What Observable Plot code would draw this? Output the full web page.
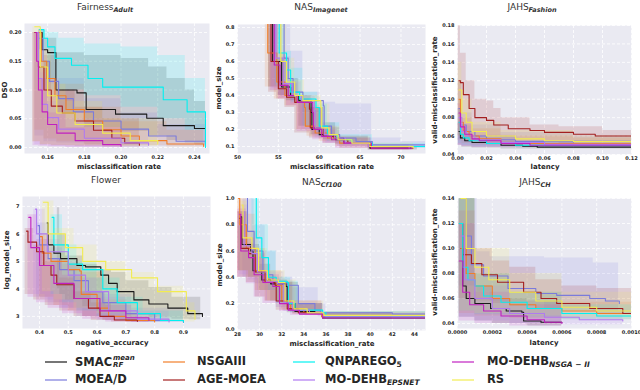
<!DOCTYPE html>
<html><head><meta charset="utf-8">
<script src="https://cdn.jsdelivr.net/npm/d3@7"></script>
<script src="https://cdn.jsdelivr.net/npm/@observablehq/plot@0.6"></script>
<style>
html,body{margin:0;padding:0;background:#fff;}
#root{position:relative;width:640px;height:390px;overflow:hidden;font-family:"DejaVu Sans",sans-serif;color:#262626;}
.abs{position:absolute;white-space:nowrap;line-height:1;}
.ttl{font-size:9px;color:#333;transform:translate(-50%,-50%);}
.ttl sub{font-size:6.5px;font-weight:bold;font-style:italic;vertical-align:-2px;line-height:0;}
.xl{font-size:7px;font-weight:bold;transform:translate(-50%,-50%);}
.yl{font-size:7px;font-weight:bold;transform:translate(-50%,-50%) rotate(-90deg);}
.lg{font-size:11.5px;font-weight:bold;transform:translateY(-50%);}
.lg sub{font-size:7.5px;font-style:italic;vertical-align:-2px;line-height:0;}
.lg sub.n{font-style:normal;}
.ss{display:inline-flex;flex-direction:column;font-size:7px;font-style:italic;line-height:6.5px;vertical-align:middle;margin-left:1px;position:relative;top:-1px;}
</style></head>
<body><div id="root"></div>
<script>
// ---------- methods / legend ----------
const methods = ["SMAC","MOEA/D","NSGAIII","AGE-MOEA","QNPAREGO5","MO-DEHB_EPSNET","MO-DEHB_NSGA-II","RS"];
const colors  = ["#1a1a1a","#7b7bdb","#f07d2a","#a31f1f","#00f0f0","#b07af0","#c020c0","#f2ec50"];
const legendLabels = [
  'SMAC<span class="ss"><span>mean</span><span>RF</span></span>',
  'MOEA/D','NSGAIII','AGE-MOEA',
  'QNPAREGO<sub class="n">5</sub>',
  'MO-DEHB<sub>EPSNET</sub>',
  'MO-DEHB<sub>NSGA − II</sub>',
  'RS'];

// ---------- ticks ----------
const fairXT = [0.16,0.18,0.20,0.22,0.24], fairYT = [0,0.05,0.10,0.15,0.20];
const imgXT = [50,55,60,65,70], imgYT = [0.1,0.2,0.3,0.4,0.5,0.6,0.7,0.8];
const fashXT = [0,0.02,0.04,0.06,0.08,0.10,0.12], fashYT = [0.04,0.06,0.08,0.10,0.12,0.14,0.16,0.18];
const flowXT = [0.4,0.5,0.6,0.7,0.8,0.9], flowYT = [3,4,5,6,7];
const cfXT = [28,30,32,34,36,38,40,42,44], cfYT = [0,0.2,0.4,0.6,0.8,1.0];
const chXT = [0,0.0002,0.0004,0.0006,0.0008,0.0010], chYT = [0.04,0.06,0.08,0.10,0.12,0.14];

// ---------- Fairness Adult (order = methods) ----------
const fairLines = [
 [[0.1552,0.200],[0.1570,0.170],[0.1600,0.165],[0.1645,0.100],[0.1760,0.095],[0.1810,0.066],[0.1970,0.058],[0.2140,0.051],[0.2230,0.038],[0.2400,0.033],[0.2460,0.033]],
 [[0.1550,0.190],[0.1575,0.150],[0.1610,0.115],[0.1660,0.085],[0.1740,0.062],[0.1850,0.046],[0.2000,0.032],[0.2150,0.020],[0.2300,0.011],[0.2460,0.005]],
 [[0.1540,0.200],[0.1565,0.150],[0.1595,0.120],[0.1640,0.090],[0.1700,0.066],[0.1800,0.046],[0.1900,0.031],[0.2000,0.020],[0.2100,0.012],[0.2250,0.006],[0.2450,0.002]],
 [[0.1530,0.200],[0.1550,0.140],[0.1580,0.100],[0.1620,0.072],[0.1680,0.060],[0.1750,0.046],[0.1850,0.030],[0.1950,0.016],[0.2020,0.008],[0.2100,0.004]],
 [[0.1555,0.205],[0.1580,0.190],[0.1600,0.175],[0.1640,0.155],[0.1730,0.143],[0.1820,0.120],[0.1900,0.105],[0.2230,0.083],[0.2360,0.062],[0.2460,0.062],[0.2460,0.000]],
 [[0.1540,0.200],[0.1550,0.120],[0.1570,0.075],[0.1600,0.052],[0.1660,0.032],[0.1800,0.016],[0.2000,0.008],[0.2150,0.004]],
 [[0.1535,0.200],[0.1540,0.150],[0.1550,0.100],[0.1570,0.062],[0.1600,0.040],[0.1650,0.025],[0.1750,0.012],[0.1900,0.005],[0.2000,0.002]],
 [[0.1530,0.210],[0.1560,0.140],[0.1600,0.090],[0.1650,0.060],[0.1750,0.040],[0.1900,0.025],[0.2050,0.012],[0.2200,0.006]]
];
const fairBands = [
 [[0.155,0.17,0.205],[0.158,0.10,0.19],[0.165,0.06,0.165],[0.18,0.035,0.16],[0.20,0.028,0.155],[0.215,0.02,0.14],[0.225,0.012,0.12],[0.235,0.008,0.10],[0.240,0.005,0.08],[0.246,0.0,0.06]],
 [[0.153,0.02,0.20],[0.158,0.01,0.16],[0.165,0.008,0.12],[0.18,0.005,0.085],[0.20,0.003,0.06],[0.22,0.002,0.04],[0.246,0.0,0.03]],
 [[0.153,0.03,0.20],[0.158,0.015,0.16],[0.165,0.01,0.11],[0.18,0.005,0.07],[0.20,0.003,0.045],[0.225,0.001,0.03],[0.245,0.0,0.01]],
 [[0.152,0.01,0.20],[0.156,0.005,0.15],[0.162,0.003,0.10],[0.175,0.002,0.07],[0.19,0.001,0.05],[0.21,0.0,0.03]],
 [[0.156,0.17,0.205],[0.160,0.12,0.20],[0.166,0.10,0.19],[0.18,0.09,0.18],[0.20,0.07,0.175],[0.22,0.05,0.16],[0.235,0.03,0.12],[0.246,0.01,0.10]],
 [[0.153,0.005,0.20],[0.156,0.003,0.13],[0.16,0.002,0.08],[0.17,0.001,0.05],[0.19,0.0,0.03],[0.215,0.0,0.015]],
 [[0.152,0.003,0.20],[0.155,0.002,0.12],[0.16,0.001,0.06],[0.17,0.0,0.035],[0.20,0.0,0.015]],
 [[0.152,0.01,0.21],[0.156,0.005,0.17],[0.162,0.004,0.11],[0.17,0.003,0.08],[0.19,0.002,0.05],[0.22,0.0,0.03]]
];

// ---------- NAS Imagenet ----------
const imgLines = [
 [[54.2,0.85],[54.3,0.60],[55.4,0.45],[56.5,0.40],[57.5,0.37],[59.0,0.30],[59.1,0.20],[60.0,0.17],[61.8,0.15],[63.0,0.12],[66.2,0.09],[71.2,0.09]],
 [[55.6,0.85],[55.7,0.62],[56.2,0.50],[56.8,0.42],[58.0,0.37],[60.5,0.34],[60.6,0.22],[61.5,0.17],[62.5,0.15],[64.5,0.13],[66.5,0.11],[73.0,0.10]],
 [[53.6,0.85],[53.7,0.65],[54.8,0.48],[55.8,0.40],[57.2,0.36],[58.2,0.33],[58.3,0.22],[59.5,0.18],[61.0,0.15],[62.5,0.12],[66.0,0.10],[71.0,0.09]],
 [[54.0,0.85],[54.1,0.60],[55.0,0.44],[56.0,0.39],[57.0,0.36],[58.8,0.32],[58.9,0.21],[60.5,0.16],[62.0,0.14],[63.5,0.12],[66.3,0.09],[71.5,0.09]],
 [[55.0,0.85],[55.1,0.65],[56.0,0.55],[56.5,0.42],[57.6,0.38],[59.6,0.33],[60.0,0.22],[61.0,0.17],[62.2,0.14],[64.0,0.12],[66.5,0.10],[71.5,0.10],[73.0,0.08]],
 [[54.6,0.85],[54.7,0.62],[55.6,0.47],[56.7,0.40],[57.8,0.37],[59.4,0.31],[59.5,0.21],[60.6,0.17],[61.9,0.15],[63.2,0.12],[66.0,0.10],[71.0,0.09]],
 [[54.4,0.85],[54.5,0.58],[55.2,0.46],[56.2,0.40],[57.3,0.36],[59.2,0.30],[59.3,0.20],[60.3,0.16],[61.5,0.14],[63.0,0.12],[66.4,0.09],[71.3,0.09]],
 [[55.2,0.85],[55.3,0.60],[56.0,0.48],[57.0,0.40],[58.0,0.37],[60.2,0.33],[60.3,0.21],[61.2,0.17],[62.3,0.14],[64.0,0.12],[66.2,0.10],[71.5,0.09]]
];
const imgBands = [
 [[53.8,0.45,0.85],[55.0,0.40,0.62],[56.0,0.37,0.50],[57.5,0.22,0.40],[59.0,0.17,0.33],[60.5,0.14,0.24],[62.0,0.11,0.16],[66.0,0.08,0.10],[72.0,0.08,0.10]],
 [[55.0,0.40,0.85],[56.5,0.37,0.66],[58.0,0.30,0.42],[60.0,0.15,0.36],[62.0,0.13,0.35],[66.3,0.11,0.35],[66.4,0.10,0.15],[70.0,0.09,0.13],[73.0,0.09,0.12]],
 [[53.4,0.45,0.85],[54.5,0.38,0.65],[55.8,0.34,0.48],[57.2,0.20,0.38],[58.5,0.16,0.34],[60.0,0.13,0.22],[62.0,0.10,0.15],[66.0,0.08,0.11],[71.0,0.08,0.10]],
 [[53.8,0.42,0.85],[54.8,0.38,0.62],[55.8,0.33,0.46],[57.0,0.18,0.38],[58.8,0.15,0.33],[60.5,0.12,0.21],[62.5,0.09,0.15],[66.3,0.08,0.10],[71.5,0.08,0.10]],
 [[54.6,0.46,0.85],[55.8,0.40,0.66],[56.6,0.36,0.56],[58.0,0.22,0.42],[59.8,0.16,0.35],[61.0,0.13,0.24],[62.5,0.11,0.17],[66.5,0.09,0.12],[73.0,0.08,0.11]],
 [[54.2,0.44,0.85],[55.4,0.39,0.63],[56.5,0.35,0.48],[57.8,0.20,0.40],[59.5,0.15,0.33],[60.8,0.12,0.22],[62.2,0.10,0.16],[66.0,0.08,0.11],[71.0,0.08,0.10]],
 [[54.0,0.43,0.85],[55.0,0.38,0.60],[56.0,0.34,0.47],[57.3,0.19,0.38],[59.2,0.14,0.31],[60.4,0.12,0.20],[62.0,0.09,0.15],[66.4,0.08,0.10],[71.3,0.08,0.10]],
 [[54.8,0.45,0.85],[56.0,0.40,0.62],[57.0,0.35,0.49],[58.2,0.21,0.40],[60.2,0.16,0.35],[61.3,0.13,0.22],[62.5,0.11,0.16],[66.2,0.09,0.12],[71.5,0.08,0.10]]
];

// ---------- JAHS Fashion ----------
const fashLines = [
 [[0.001,0.065],[0.002,0.058],[0.005,0.055],[0.010,0.053],[0.020,0.052],[0.030,0.050],[0.045,0.049],[0.055,0.048],[0.120,0.048]],
 [[0.001,0.090],[0.002,0.072],[0.006,0.065],[0.012,0.060],[0.020,0.056],[0.040,0.054],[0.080,0.052],[0.120,0.051]],
 [[0.001,0.100],[0.002,0.075],[0.004,0.065],[0.008,0.060],[0.015,0.057],[0.030,0.053],[0.050,0.052],[0.120,0.051]],
 [[0.001,0.120],[0.002,0.118],[0.004,0.105],[0.008,0.090],[0.012,0.080],[0.020,0.077],[0.025,0.072],[0.035,0.068],[0.050,0.066],[0.060,0.064],[0.080,0.062],[0.095,0.060],[0.120,0.058]],
 [[0.001,0.075],[0.002,0.062],[0.004,0.058],[0.008,0.055],[0.020,0.052],[0.040,0.050],[0.120,0.049]],
 [[0.001,0.080],[0.003,0.065],[0.006,0.060],[0.012,0.056],[0.030,0.053],[0.060,0.051],[0.120,0.050]],
 [[0.001,0.085],[0.002,0.070],[0.005,0.062],[0.010,0.057],[0.015,0.055],[0.030,0.052],[0.050,0.050],[0.120,0.050]],
 [[0.001,0.110],[0.003,0.085],[0.006,0.075],[0.010,0.065],[0.020,0.060],[0.040,0.057],[0.060,0.055],[0.080,0.054],[0.120,0.053]]
];
const fashBands = [
 [[0.0005,0.050,0.075],[0.003,0.048,0.062],[0.010,0.047,0.057],[0.030,0.046,0.054],[0.060,0.046,0.052],[0.120,0.046,0.051]],
 [[0.0005,0.056,0.120],[0.003,0.054,0.085],[0.010,0.052,0.072],[0.030,0.051,0.064],[0.080,0.050,0.060],[0.120,0.050,0.058]],
 [[0.0005,0.055,0.120],[0.003,0.052,0.080],[0.010,0.050,0.068],[0.030,0.050,0.060],[0.080,0.049,0.058],[0.120,0.049,0.056]],
 [[0.0005,0.060,0.180],[0.002,0.056,0.150],[0.006,0.055,0.120],[0.012,0.055,0.100],[0.020,0.054,0.098],[0.025,0.054,0.090],[0.030,0.053,0.080],[0.050,0.053,0.072],[0.070,0.052,0.070],[0.100,0.052,0.066],[0.120,0.052,0.064]],
 [[0.0005,0.052,0.090],[0.003,0.050,0.066],[0.010,0.049,0.060],[0.040,0.048,0.055],[0.120,0.048,0.053]],
 [[0.0005,0.050,0.090],[0.003,0.049,0.070],[0.010,0.048,0.060],[0.040,0.048,0.055],[0.120,0.047,0.053]],
 [[0.0005,0.050,0.095],[0.003,0.049,0.072],[0.010,0.048,0.061],[0.040,0.048,0.055],[0.120,0.047,0.053]],
 [[0.0005,0.060,0.140],[0.003,0.055,0.100],[0.010,0.053,0.075],[0.030,0.052,0.066],[0.080,0.051,0.060],[0.120,0.050,0.058]]
];

// ---------- Flower ----------
const flowLines = [
 [[0.427,6.4],[0.430,5.6],[0.450,5.3],[0.473,5.1],[0.530,4.85],[0.560,4.8],[0.613,4.5],[0.640,4.2],[0.670,3.9],[0.728,3.6],[0.780,3.45],[0.846,3.3],[0.915,3.1],[0.966,3.0]],
 [[0.395,6.3],[0.400,5.6],[0.430,5.1],[0.470,4.7],[0.520,4.3],[0.570,3.9],[0.620,3.5],[0.700,3.1],[0.800,2.85],[0.900,2.78]],
 [[0.403,5.9],[0.410,5.3],[0.440,5.0],[0.500,4.7],[0.540,4.65],[0.545,3.8],[0.600,3.3],[0.640,3.0],[0.700,2.85],[0.800,2.8]],
 [[0.355,6.1],[0.360,5.7],[0.390,5.35],[0.415,4.85],[0.440,4.5],[0.460,4.15],[0.520,3.65],[0.570,3.3],[0.610,3.0],[0.660,2.87],[0.740,2.82]],
 [[0.444,6.6],[0.450,5.6],[0.500,4.9],[0.550,4.7],[0.620,4.0],[0.670,3.5],[0.740,3.1],[0.820,2.85],[0.900,2.8]],
 [[0.386,6.9],[0.390,6.0],[0.427,5.35],[0.500,4.5],[0.560,3.9],[0.640,3.2],[0.740,2.9],[0.850,2.8]],
 [[0.363,6.6],[0.370,5.5],[0.400,4.85],[0.450,4.2],[0.520,3.65],[0.610,3.2],[0.700,2.95],[0.780,2.85]],
 [[0.414,7.15],[0.430,6.0],[0.490,5.5],[0.550,5.0],[0.630,4.7],[0.720,4.4],[0.810,3.9],[0.910,3.2],[0.940,2.9]]
];
const flowBands = [
 [[0.462,4.0,6.95],[0.47,3.8,6.0],[0.49,3.6,5.2],[0.55,3.35,4.9],[0.60,3.2,4.7],[0.65,3.1,4.6],[0.70,3.05,4.3],[0.78,2.95,4.05],[0.86,2.9,3.7],[0.92,2.88,3.7],[0.96,2.85,3.3]],
 [[0.39,3.7,6.4],[0.43,3.5,5.5],[0.48,3.3,4.9],[0.55,3.0,4.4],[0.62,2.85,3.8],[0.72,2.78,3.3],[0.90,2.75,2.9]],
 [[0.40,3.7,6.0],[0.45,3.4,5.3],[0.50,3.2,4.9],[0.55,3.0,4.6],[0.62,2.85,3.6],[0.70,2.78,3.1],[0.80,2.76,2.9]],
 [[0.35,3.8,6.2],[0.38,3.6,5.6],[0.42,3.4,5.0],[0.47,3.2,4.4],[0.52,3.0,3.9],[0.58,2.85,3.5],[0.65,2.8,3.1],[0.74,2.78,2.9]],
 [[0.44,3.8,6.7],[0.48,3.5,5.6],[0.53,3.2,5.0],[0.60,3.0,4.4],[0.68,2.85,3.7],[0.76,2.8,3.2],[0.90,2.76,2.95]],
 [[0.38,3.8,6.9],[0.42,3.6,5.8],[0.47,3.3,5.0],[0.53,3.0,4.4],[0.60,2.85,3.7],[0.70,2.78,3.2],[0.85,2.75,2.9]],
 [[0.36,3.7,6.7],[0.39,3.5,5.8],[0.43,3.3,5.1],[0.48,3.1,4.5],[0.55,2.9,3.9],[0.63,2.8,3.4],[0.72,2.78,3.0],[0.78,2.78,2.9]],
 [[0.41,3.9,7.2],[0.45,3.6,6.2],[0.52,3.3,5.6],[0.60,3.1,5.0],[0.70,2.95,4.6],[0.80,2.85,4.1],[0.90,2.8,3.5],[0.94,2.8,3.0]]
];

// ---------- NAS Cf100 ----------
const cfLines = [
 [[28.3,0.86],[28.4,0.65],[29.2,0.60],[29.4,0.45],[30.2,0.38],[31.0,0.35],[32.4,0.33],[32.5,0.20],[33.2,0.14],[35.0,0.13],[35.7,0.09],[41.8,0.09],[45.0,0.09]],
 [[28.8,1.05],[28.9,0.75],[29.5,0.60],[30.3,0.42],[31.2,0.36],[32.5,0.34],[33.5,0.20],[35.0,0.15],[35.5,0.13],[42.0,0.12],[45.0,0.11]],
 [[28.1,1.00],[28.2,0.80],[28.8,0.62],[29.6,0.45],[30.5,0.37],[31.5,0.34],[32.0,0.22],[32.8,0.16],[34.0,0.13],[35.6,0.10],[41.9,0.10],[45.0,0.09]],
 [[28.2,0.85],[28.3,0.62],[29.0,0.58],[29.6,0.44],[30.5,0.36],[31.4,0.34],[31.5,0.22],[32.5,0.16],[33.5,0.13],[35.7,0.10],[41.9,0.10]],
 [[29.6,1.05],[29.7,0.70],[30.2,0.55],[30.8,0.40],[31.5,0.37],[32.5,0.36],[32.6,0.20],[33.2,0.15],[35.7,0.13],[36.0,0.10],[42.0,0.10],[45.0,0.08]],
 [[28.5,0.90],[28.6,0.64],[29.3,0.58],[29.8,0.44],[30.6,0.37],[31.6,0.35],[32.2,0.21],[33.0,0.15],[34.5,0.13],[35.7,0.10],[42.0,0.10],[45.0,0.10]],
 [[28.2,0.88],[28.3,0.60],[29.0,0.55],[29.5,0.42],[30.3,0.36],[31.2,0.33],[31.8,0.20],[32.6,0.15],[33.6,0.12],[35.7,0.09],[41.8,0.09],[45.0,0.09]],
 [[28.4,0.95],[28.5,0.70],[29.3,0.62],[29.9,0.45],[30.7,0.38],[31.7,0.36],[32.3,0.22],[33.1,0.16],[34.3,0.13],[35.8,0.11],[42.0,0.11],[45.0,0.10]]
];
const cfBands = [
 [[28.1,0.45,0.90],[29.0,0.40,0.65],[30.0,0.30,0.50],[31.0,0.22,0.38],[32.5,0.13,0.36],[33.5,0.12,0.20],[35.7,0.08,0.13],[42.0,0.08,0.10]],
 [[28.5,0.40,1.05],[29.5,0.35,0.80],[30.5,0.30,0.60],[31.5,0.17,0.40],[33.0,0.13,0.32],[35.2,0.12,0.32],[35.3,0.10,0.20],[36.0,0.09,0.14],[45.0,0.09,0.13]],
 [[28.0,0.45,1.00],[28.8,0.40,0.88],[29.6,0.30,0.62],[30.5,0.22,0.45],[32.0,0.15,0.37],[33.0,0.12,0.22],[35.6,0.09,0.13],[45.0,0.08,0.10]],
 [[28.0,0.40,0.90],[28.8,0.36,0.70],[29.6,0.25,0.58],[30.5,0.22,0.40],[31.5,0.15,0.36],[33.0,0.12,0.20],[35.7,0.09,0.13],[42.0,0.09,0.11]],
 [[29.3,0.45,1.05],[30.0,0.38,0.80],[30.8,0.30,0.60],[31.5,0.20,0.40],[32.8,0.13,0.37],[33.5,0.12,0.20],[35.7,0.09,0.14],[45.0,0.08,0.11]],
 [[28.2,0.42,0.95],[29.0,0.38,0.75],[29.8,0.30,0.60],[30.6,0.22,0.44],[32.2,0.14,0.37],[33.2,0.12,0.22],[35.7,0.09,0.13],[45.0,0.09,0.11]],
 [[28.0,0.40,0.92],[28.8,0.35,0.66],[29.5,0.25,0.55],[30.3,0.20,0.42],[31.8,0.14,0.35],[32.8,0.11,0.20],[35.7,0.08,0.12],[45.0,0.08,0.10]],
 [[28.2,0.45,0.98],[29.0,0.40,0.75],[29.9,0.30,0.62],[30.7,0.22,0.45],[32.3,0.15,0.38],[33.3,0.12,0.22],[35.8,0.09,0.14],[45.0,0.09,0.12]]
];

// ---------- JAHS CH ----------
const chLines = [
 [[0.00002,0.100],[0.00003,0.070],[0.00005,0.060],[0.00010,0.056],[0.00019,0.052],[0.00028,0.050],[0.00037,0.049],[0.00038,0.042],[0.00048,0.041],[0.00060,0.041]],
 [[0.00003,0.140],[0.00005,0.110],[0.00008,0.087],[0.00015,0.078],[0.00029,0.068],[0.00045,0.064],[0.00057,0.0625],[0.00076,0.060],[0.00085,0.058],[0.00093,0.056]],
 [[0.00002,0.100],[0.00005,0.080],[0.00010,0.070],[0.00020,0.060],[0.00030,0.055],[0.00045,0.052],[0.00060,0.050],[0.00080,0.048],[0.00100,0.047]],
 [[0.00001,0.120],[0.00003,0.095],[0.00008,0.088],[0.00014,0.079],[0.00023,0.073],[0.00038,0.065],[0.00048,0.060],[0.00057,0.056],[0.00076,0.052],[0.00095,0.048],[0.00100,0.048]],
 [[0.00001,0.120],[0.00003,0.085],[0.00006,0.075],[0.00010,0.070],[0.00015,0.062],[0.00025,0.057],[0.00040,0.052],[0.00060,0.048],[0.00080,0.046],[0.00100,0.045]],
 [[0.00002,0.110],[0.00004,0.075],[0.00010,0.060],[0.00020,0.052],[0.00030,0.048],[0.00050,0.045],[0.00070,0.043],[0.00095,0.042]],
 [[0.00001,0.090],[0.00003,0.065],[0.00007,0.055],[0.00015,0.050],[0.00025,0.046],[0.00040,0.043],[0.00050,0.041],[0.00060,0.040]],
 [[0.00002,0.140],[0.00005,0.100],[0.00010,0.085],[0.00018,0.075],[0.00030,0.065],[0.00045,0.058],[0.00060,0.053],[0.00080,0.050],[0.00100,0.049]]
];
const chBands = [
 [[0.00001,0.045,0.14],[0.00010,0.042,0.07],[0.00020,0.040,0.06],[0.00040,0.038,0.058],[0.00060,0.038,0.055]],
 [[0.00001,0.070,0.14],[0.000112,0.065,0.0975],[0.000187,0.058,0.0935],[0.00050,0.052,0.0925],[0.00078,0.050,0.0884],[0.000926,0.050,0.0884]],
 [[0.00001,0.048,0.13],[0.00010,0.046,0.08],[0.00030,0.044,0.065],[0.00060,0.043,0.057],[0.00100,0.042,0.053]],
 [[0.00001,0.060,0.14],[0.00010,0.058,0.10],[0.00020,0.056,0.09],[0.00030,0.054,0.085],[0.00045,0.052,0.075],[0.00060,0.050,0.07],[0.00080,0.048,0.068],[0.00100,0.046,0.065]],
 [[0.00001,0.050,0.14],[0.00010,0.047,0.08],[0.00030,0.045,0.065],[0.00060,0.043,0.055],[0.00100,0.042,0.05]],
 [[0.00001,0.045,0.13],[0.00010,0.042,0.07],[0.00030,0.040,0.058],[0.00060,0.039,0.05],[0.00095,0.038,0.047]],
 [[0.00001,0.042,0.12],[0.00010,0.040,0.065],[0.00030,0.038,0.055],[0.00060,0.037,0.048]],
 [[0.00001,0.050,0.14],[0.00010,0.048,0.10],[0.00030,0.046,0.08],[0.00060,0.045,0.065],[0.00100,0.044,0.058]]
];

// ---------- rendering ----------
const root = document.getElementById("root");
function addDiv(cls, html, css) {
  const d = document.createElement("div");
  d.className = "abs " + cls;
  d.innerHTML = html;
  Object.assign(d.style, css);
  root.appendChild(d);
  return d;
}

function panel(c, lines, bands) {
  const rows = [], brows = [];
  lines.forEach((pts, i) => pts.forEach(p => rows.push({m: methods[i], x: p[0], y: p[1]})));
  bands.forEach((pts, i) => pts.forEach(p => brows.push({m: methods[i], x: p[0], lo: p[1], hi: p[2]})));
  const mL = 22, mR = 9, mT = 2, mB = 10;
  const W = c.r - c.l + mL + mR, H = c.b - c.t + mT + mB;
  const grid = {stroke: "#ffffff", strokeOpacity: 1, strokeWidth: 0.8, strokeDasharray: "3,2"};
  const ax = {tickSize: 0, label: null, fontSize: 5, fontWeight: "bold"};
  const svg = Plot.plot({
    width: W, height: H,
    marginLeft: mL, marginRight: mR, marginTop: mT, marginBottom: mB,
    style: {background: "transparent", fontFamily: "DejaVu Sans, sans-serif", color: "#262626", overflow: "visible"},
    x: {domain: c.xd},
    y: {domain: c.yd},
    color: {domain: methods, range: colors},
    marks: [
      Plot.frame({fill: "#EAEAF2", stroke: "none"}),
      Plot.gridX({ticks: c.xt, ...grid}),
      Plot.gridY({ticks: c.yt, ...grid}),
      Plot.areaY(brows, {x: "x", y1: "lo", y2: "hi", z: "m", fill: "m", fillOpacity: 0.15, curve: "step-after", clip: true}),
      Plot.line(rows, {x: "x", y: "y", z: "m", stroke: "m", strokeWidth: 1.1, curve: "step-after", clip: true}),
      Plot.axisX({ticks: c.xt, tickFormat: d3.format(c.xf), tickPadding: 2, ...ax}),
      Plot.axisY({ticks: c.yt, tickFormat: d3.format(c.yf), tickPadding: 3, ...ax})
    ]
  });
  const holder = document.createElement("div");
  holder.className = "abs";
  Object.assign(holder.style, {left: (c.l - mL) + "px", top: (c.t - mT) + "px", width: W + "px", height: H + "px"});
  holder.appendChild(svg);
  root.appendChild(holder);
  addDiv("ttl", c.title, {left: c.tx + "px", top: c.ty + "px"});
  addDiv("xl", c.xlab, {left: c.xlx + "px", top: c.xly + "px"});
  addDiv("yl", c.ylab, {left: c.ylx + "px", top: c.yly + "px"});
}

panel({l:24,r:209,t:23,b:153,xd:[0.1474,0.2482],yd:[-0.0104,0.2157],xt:fairXT,yt:fairYT,xf:".2f",yf:".2f",
  title:'Fairness<sub>Adult</sub>',tx:105,ty:7,xlab:"misclassification rate",xlx:119,xly:167,ylab:"DSO",ylx:5,yly:90},
  fairLines, fairBands);
panel({l:237,r:425,t:24,b:153,xd:[50,73],yd:[0.059,0.818],xt:imgXT,yt:imgYT,xf:"d",yf:".1f",
  title:'NAS<sub>Imagenet</sub>',tx:321,ty:7,xlab:"misclassification rate",xlx:332,xly:167,ylab:"model_size",ylx:219,yly:88},
  imgLines, imgBands);
panel({l:457,r:631,t:25,b:154,xd:[0,0.12],yd:[0.04,0.18],xt:fashXT,yt:fashYT,xf:".2f",yf:".2f",
  title:'JAHS<sub>Fashion</sub>',tx:532,ty:7,xlab:"latency",xlx:545,xly:167,ylab:"valid-misclassification_rate",ylx:435,yly:90},
  fashLines, fashBands);
panel({l:22,r:210,t:196,b:328,xd:[0.341,0.994],yd:[2.56,7.36],xt:flowXT,yt:flowYT,xf:".1f",yf:"d",
  title:'Flower',tx:106,ty:180,xlab:"negative_accuracy",xlx:112,xly:343,ylab:"log_model_size",ylx:7,yly:260},
  flowLines, flowBands);
panel({l:237,r:425,t:198,b:330,xd:[28,45],yd:[-0.005,1.0],xt:cfXT,yt:cfYT,xf:"d",yf:".1f",
  title:'NAS<sub>Cf100</sub>',tx:322,ty:182,xlab:"misclassification_rate",xlx:332,xly:344,ylab:"model_size",ylx:220,yly:265},
  cfLines, cfBands);
panel({l:457,r:631,t:198,b:328,xd:[0,0.001],yd:[0.036,0.14],xt:chXT,yt:chYT,xf:".4f",yf:".2f",
  title:'JAHS<sub>CH</sub>',tx:535,ty:182,xlab:"latency",xlx:544,xly:343,ylab:"valid-misclassification_rate",ylx:435,yly:262},
  chLines, chBands);

// ---------- legend ----------
const colLine = [45, 163, 293, 452], colText = [75, 197, 325, 487], rowY = [362, 380];
methods.forEach((m, i) => {
  const col = Math.floor(i / 2), row = i % 2;
  const sv = document.createElementNS("http://www.w3.org/2000/svg", "svg");
  sv.setAttribute("width", 22); sv.setAttribute("height", 4);
  sv.innerHTML = `<line x1="0" y1="2" x2="22" y2="2" stroke="${colors[i]}" stroke-opacity="0.75" stroke-width="1.6"/>`;
  sv.style.position = "absolute";
  sv.style.left = colLine[col] + "px";
  sv.style.top = (rowY[row] - 2) + "px";
  root.appendChild(sv);
  addDiv("lg", legendLabels[i], {left: colText[col] + "px", top: rowY[row] + "px"});
});
</script>
</body></html>
